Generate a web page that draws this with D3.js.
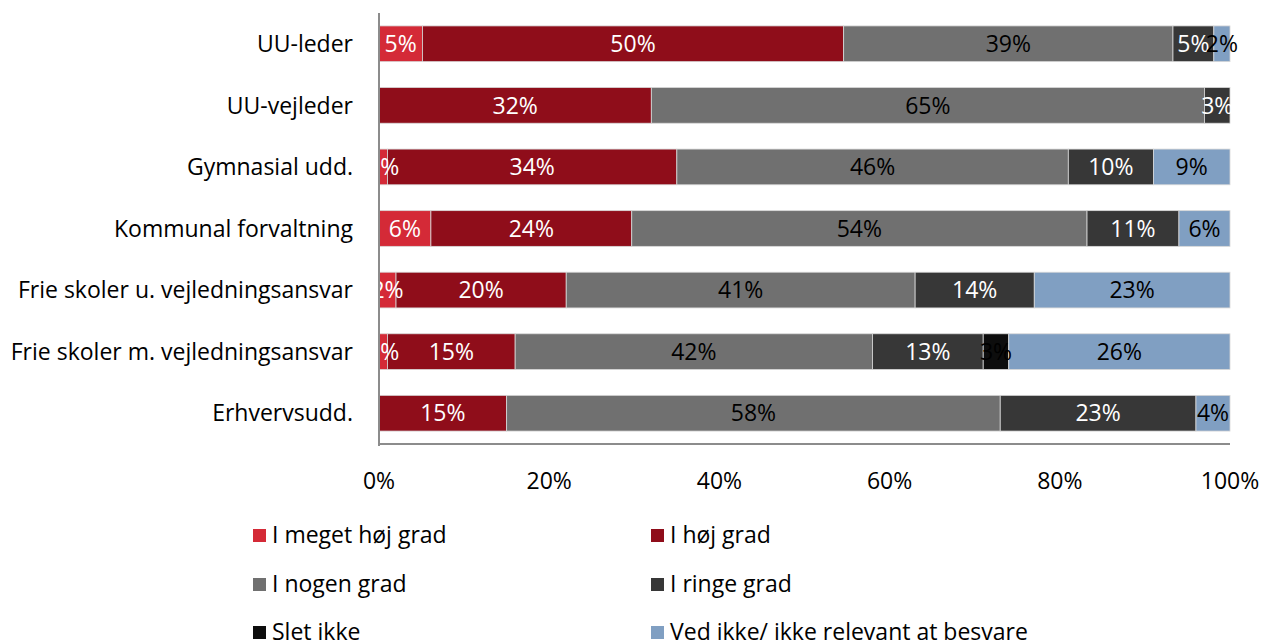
<!DOCTYPE html>
<html><head><meta charset="utf-8">
<script src="https://cdn.jsdelivr.net/npm/d3@7"></script>
<style>body{margin:0;background:#fff;} svg{display:block;}</style>
</head><body>
<svg id="c" width="1263" height="643"></svg>
<script>
const categories = ["UU-leder","UU-vejleder","Gymnasial udd.","Kommunal forvaltning","Frie skoler u. vejledningsansvar","Frie skoler m. vejledningsansvar","Erhvervsudd."];
const seriesNames = ["I meget høj grad","I høj grad","I nogen grad","I ringe grad","Slet ikke","Ved ikke/ ikke relevant at besvare"];
const meget = [5.1, 0, 1, 6.1, 2, 1, 0];
const hoej   = [49.5, 32, 34, 23.6, 20, 15, 15];
const nogen  = [38.7, 65, 46, 53.5, 41, 42, 58];
const ringe  = [4.8, 3, 10, 10.8, 14, 13, 23];
const slet   = [0, 0, 0, 0, 0, 3, 0];
const vedIkke = [1.9, 0, 9, 6.0, 23, 26, 4];
const tickLabels = ["0%","20%","40%","60%","80%","100%"];
const tickValues = [0,20,40,60,80,100];

const colors = ["#D42A37","#8F0D1A","#707070","#373737","#0D0D0D","#809FC2"];
const labelColors = ["#fff","#fff","#000","#fff","#000","#000"];
const seriesData = [meget,hoej,nogen,ringe,slet,vedIkke];

const svg = d3.select("#c");
const font = "Open Sans, sans-serif";
const fs = 23;
const m = {left:379, right:1230, top:13, bottom:444};
const x = d3.scaleLinear().domain([0,100]).range([m.left,m.right]);
const y = d3.scaleBand().domain(categories).range([m.top,m.bottom]).paddingInner(0.42).paddingOuter(0.21);

const rows = categories.map((c,i)=>{
  let acc=0;
  return seriesData.map((s,k)=>{const v=s[i]; const o={cat:c,k,x0:acc,x1:acc+v,v}; acc+=v; return o;});
});

svg.append("defs").append("clipPath").attr("id","pa").append("rect")
  .attr("x",m.left).attr("y",0).attr("width",m.right-m.left+40).attr("height",m.bottom);

const g = svg.append("g");
rows.forEach(r=>{
  g.selectAll(null).data(r.filter(d=>d.v>0)).enter().append("rect")
    .attr("x",d=>x(d.x0)).attr("width",d=>x(d.x1)-x(d.x0))
    .attr("y",d=>y(d.cat)).attr("height",y.bandwidth())
    .attr("fill",d=>colors[d.k]).attr("stroke","#d8d8d8").attr("stroke-width",0.8);
});
const lg = svg.append("g").attr("clip-path","url(#pa)");
rows.forEach(r=>{
  lg.selectAll(null).data(r.filter(d=>d.v>0)).enter().append("text")
    .attr("x",d=>(x(d.x0)+x(d.x1))/2).attr("y",d=>y(d.cat)+y.bandwidth()/2)
    .attr("dy","0.36em").attr("text-anchor","middle")
    .attr("font-family",font).attr("font-size",fs)
    .attr("fill",d=>labelColors[d.k]).text(d=>Math.round(d.v)+"%");
});

// axes
svg.append("line").attr("x1",m.left).attr("x2",m.left).attr("y1",m.top).attr("y2",m.bottom+2)
  .attr("stroke","#8c8c8c").attr("stroke-width",2);
svg.append("line").attr("x1",m.left).attr("x2",m.right).attr("y1",m.bottom).attr("y2",m.bottom)
  .attr("stroke","#8c8c8c").attr("stroke-width",2);

svg.selectAll(".cl").data(categories).enter().append("text")
  .attr("x",353).attr("y",d=>y(d)+y.bandwidth()/2).attr("dy","0.36em").attr("text-anchor","end")
  .attr("font-family",font).attr("font-size",fs).attr("fill","#000").text(d=>d);

svg.selectAll(".xt").data(tickValues).enter().append("text")
  .attr("x",d=>x(d)).attr("y",481).attr("dy","0.36em").attr("text-anchor","middle")
  .attr("font-family",font).attr("font-size",fs).attr("fill","#000").text((d,i)=>tickLabels[i]);

// legend
const legX=[253,651], legY=[535,584,632];
seriesNames.forEach((n,i)=>{
  const lx=legX[i%2], ly=legY[Math.floor(i/2)];
  svg.append("rect").attr("x",lx).attr("y",ly-6).attr("width",13).attr("height",13).attr("fill",colors[i]);
  svg.append("text").attr("x",lx+19).attr("y",ly).attr("dy","0.36em")
    .attr("font-family",font).attr("font-size",fs).attr("fill","#000").text(n);
});
</script>
</body></html>
